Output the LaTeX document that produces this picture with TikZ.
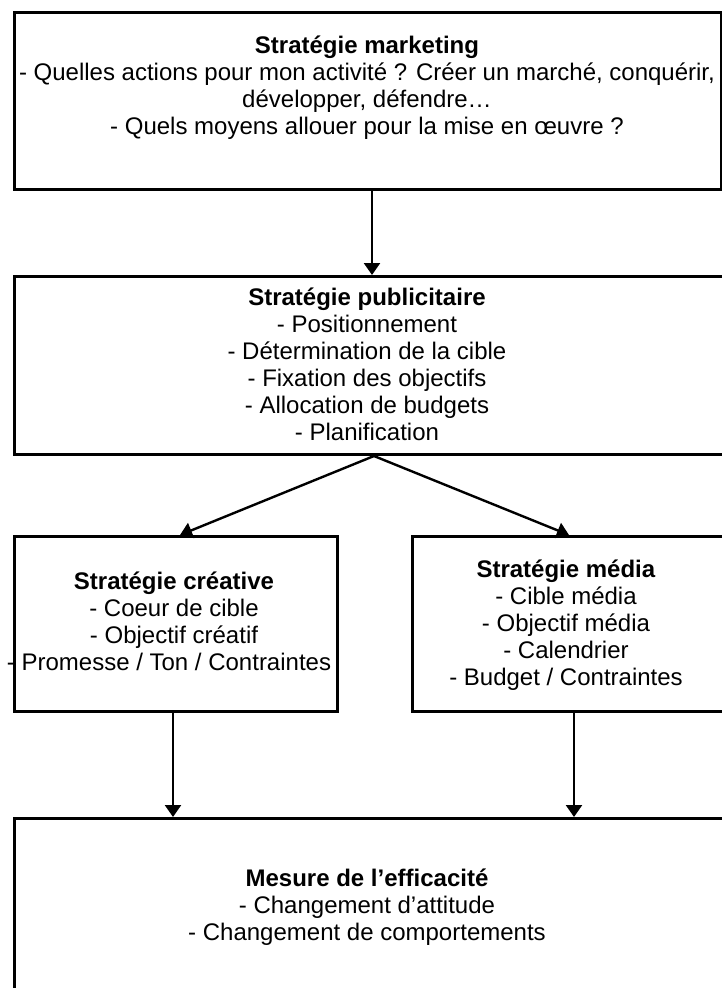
\documentclass[tikz,border=0pt]{standalone}
\usepackage{fontspec}
\setmainfont{Liberation Sans}
\usetikzlibrary{arrows.meta}
\begin{document}
\begin{tikzpicture}[x=1pt,y=-1pt,
  box/.style={draw, line width=3pt, inner sep=0pt, anchor=north west},
  txt/.style={align=center, anchor=base, inner sep=0pt,
    font=\fontsize{24}{27}\selectfont},
  link/.style={line width=2.4pt, -{Triangle[width=16pt,length=12pt]}}]
\useasboundingbox (0,0) rectangle (722,988);
\fill[white] (0,0) rectangle (722,988);
\clip (0,0) rectangle (722,988);

% boxes
\node[box, minimum width=707.5pt, minimum height=177pt] (mkt) at (12.5,11) {};
\node[box, minimum width=713.5pt, minimum height=178pt] (pub) at (12.5,275) {};
\node[box, minimum width=323pt, minimum height=175pt] (crea) at (12.5,535) {};
\node[box, minimum width=315.5pt, minimum height=175pt] (media) at (410.5,535) {};
\node[box, minimum width=713.5pt, minimum height=183pt] (eff) at (12.5,817) {};

% texts (anchored at the baseline of their last line)
\node[txt] (tmkt) at (367,134) {\textbf{Stratégie marketing}\\
  - Quelles actions pour mon activité ? Créer un marché, conquérir,\\
  développer, défendre…\\
  - Quels moyens allouer pour la mise en œuvre ?};
\node[txt] (tpub) at (367,440) {\textbf{Stratégie publicitaire}\\
  - Positionnement\\
  - Détermination de la cible\\
  - Fixation des objectifs\\
  - Allocation de budgets\\
  - Planification};
\node[txt] (tcrea) at (174,670) {\textbf{Stratégie créative}\\
  - Coeur de cible\\
  - Objectif créatif\\
  - Promesse / Ton / Contraintes\kern10pt};
\node[txt] (tmedia) at (566,685) {\textbf{Stratégie média}\\
  - Cible média\\
  - Objectif média\\
  - Calendrier\\
  - Budget / Contraintes};
\node[txt] (teff) at (367,940) {\textbf{Mesure de l’efficacité}\\
  - Changement d’attitude\\
  - Changement de comportements};

% arrow columns
\coordinate (a1) at (372,0);
\coordinate (a2) at (374,0);
\coordinate (a3) at (180,0);
\coordinate (a4) at (569,0);
\coordinate (a5) at (173,0);
\coordinate (a6) at (574,0);

% connectors
\draw[link] (mkt.south -| a1) -- (pub.north -| a1);
\draw[link] (pub.south -| a2) -- (crea.north -| a3);
\draw[link] (pub.south -| a2) -- (media.north -| a4);
\draw[link] (crea.south -| a5) -- (eff.north -| a5);
\draw[link] (media.south -| a6) -- (eff.north -| a6);
\end{tikzpicture}
\end{document}
